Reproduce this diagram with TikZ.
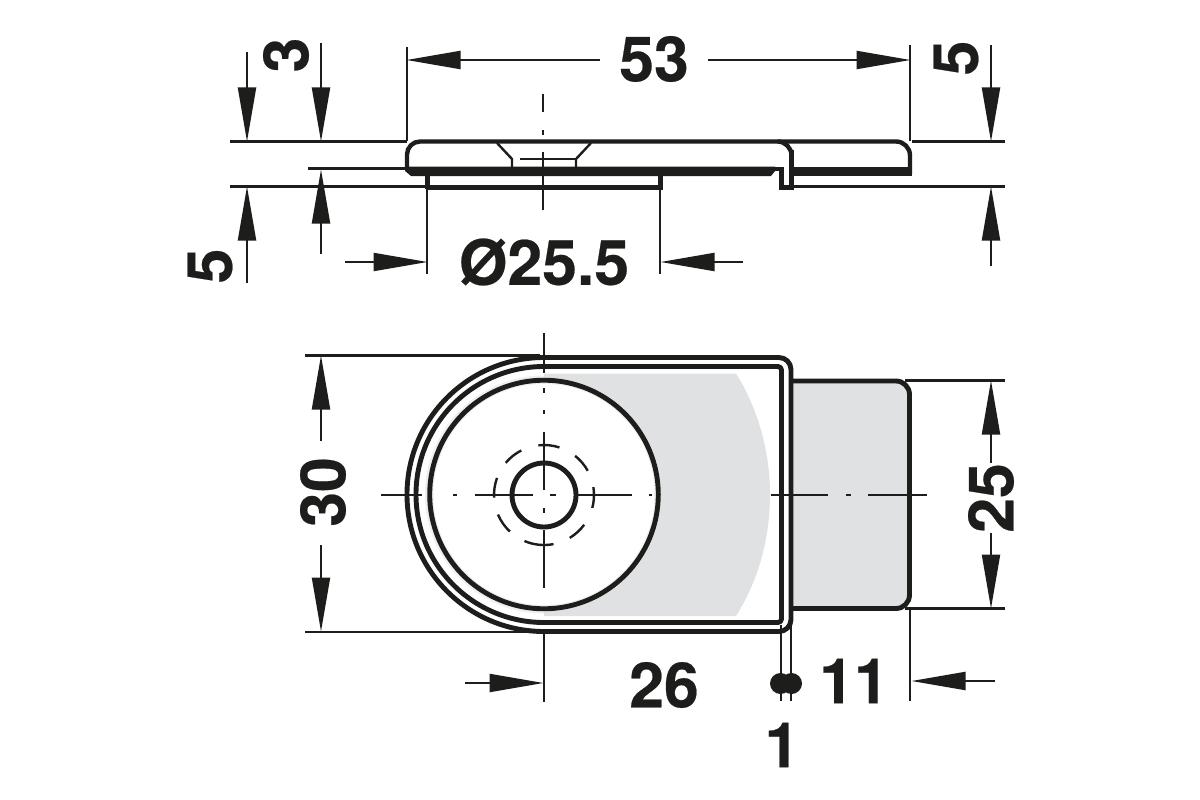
\documentclass[tikz,border=0pt]{standalone}
\usepackage{fontspec}
\setmainfont{TeX Gyre Heros}[BoldFeatures={FakeBold=0.35}]
\usetikzlibrary{arrows.meta}
\definecolor{greyfill}{HTML}{E0E1E3}
\definecolor{halo}{HTML}{EFEFF0}
\definecolor{ink}{HTML}{1D1D1B}
\tikzset{
  thin line/.style={draw=ink,line width=2.1pt},
  thick line/.style={draw=ink,line width=4.9pt,line join=round},
  mid line/.style={draw=ink,line width=2.4pt},
  dimarrow/.style={draw=ink,line width=2.1pt,-{Triangle[length=54pt,width=18pt,color=ink]},shorten >=-0.5pt},
  dimtext/.style={font=\bfseries\fontsize{62.5}{62.5}\selectfont,text=ink,inner sep=0pt},
}
\begin{document}
\begin{tikzpicture}[x=1pt,y=-1pt]
\useasboundingbox (0,0) rectangle (1200,800);
\fill[white] (0,0) rectangle (1200,800);
% ---- extension lines, top view
\draw[thin line] (230,141.5) -- (407,141.5);
\draw[thin line] (912,141.5) -- (1005,141.5);
\draw[thin line] (308,168.5) -- (407,168.5);
\draw[thin line] (230,186.5) -- (427,186.5);
\draw[thin line] (793,186.5) -- (1005,186.5);
\draw[thin line] (407,47) -- (407,141);
\draw[thin line] (910,45) -- (910,141);
\draw[thin line] (427,186) -- (427,274);
\draw[thin line] (660,186) -- (660,274);
% centre line, top view
\draw[thin line] (543,94) -- (543,112);
\draw[thin line] (543,130) -- (543,135);
\draw[thin line] (543,152) -- (543,210);
% ---- plate, top view
\draw[thick line,line width=4.4pt] (791.5,189) -- (791.5,155.5) arc[start angle=0,end angle=-90,radius=14] -- (420,141.5)
  arc[start angle=-90,end angle=-180,radius=13] -- (407,168);
\draw[thick line,line width=4.4pt] (777.5,141.5) -- (896,141.5) arc[start angle=-90,end angle=0,radius=14] -- (910,174);
\fill[ink] (405,166.7) -- (775,166.7) -- (775,171) -- (771,176) -- (411,176) -- (405,171) -- cycle;
\fill[ink] (775,166.7) rectangle (784,171);
\fill[ink] (793,166.7) rectangle (912,175.5);
\fill[ink] (779,166.7) rectangle (784,189.5);
\fill[ink] (779,185) rectangle (793.5,189.5);
\fill[ink] (788.5,150) rectangle (793.5,189.5);
\fill[white] (784,172) rectangle (788.5,185);
\fill[ink] (425,174) rectangle (430,189);
\fill[ink] (658,174) rectangle (663,189);
\fill[ink] (427,184.7) rectangle (663,189.5);
\draw[mid line] (497,143) -- (512,159) -- (512,168);
\draw[mid line] (591,143) -- (576,159) -- (576,168);
\draw[mid line] (520,159) -- (576,159);
% ---- dimensions, top view
\draw[dimarrow] (247,52) -- (247,141);
\draw[dimarrow] (321,43) -- (321,141);
\draw[dimarrow] (247,283) -- (247,187);
\draw[dimarrow] (321,254) -- (321,170);
\draw[dimarrow] (991,45) -- (991,141);
\draw[dimarrow] (991,266) -- (991,187);
\draw[dimarrow] (600,60) -- (407,60);
\draw[dimarrow] (708,60) -- (910,60);
\draw[dimarrow] (345,262) -- (427,262);
\draw[dimarrow] (743,262) -- (661,262);
\node[dimtext,rotate=90] (t3) at (286,55) {3};
\node[dimtext,rotate=90] (t5a) at (210,266) {5};
\node[dimtext,rotate=90] (t5b) at (956,58) {5};
\node[dimtext] (t53) at (654,59) {53};
\node[dimtext] (tdia) at (544,262) {Ø25.5};
% ---- front view: shading
\fill[halo] (544,494.5) circle[radius=119];
\fill[greyfill] (544,373.5) -- (736,373.5) .. controls (760,412) and (770,455) .. (770,495) .. controls (770,535) and (760,578) .. (736,616) -- (544,616) -- cycle;
\fill[halo] (544,494.5) circle[radius=117];
\fill[white] (544,494.5) circle[radius=110.5];
\fill[greyfill] (791,381) -- (896,381) arc[start angle=-90,end angle=0,radius=13.5] -- (909.5,595) arc[start angle=0,end angle=90,radius=13.5] -- (791,608.5) -- cycle;
% extension lines, front view
\draw[thin line] (305,355.5) -- (540,355.5);
\draw[thin line] (305,632) -- (540,632);
\draw[thin line] (905,380.5) -- (1005,380.5);
\draw[thin line] (905,608.5) -- (1005,608.5);
\draw[thin line] (544,630) -- (544,702);
\draw[thin line] (781,625) -- (781,701);
\draw[thin line] (791,625) -- (791,701);
\draw[thin line] (910,608) -- (910,701);
% outlines
\draw[thick line] (791,381) -- (896,381) arc[start angle=-90,end angle=0,radius=13.5] -- (909.5,595) arc[start angle=0,end angle=90,radius=13.5] -- (791,608.5);
\draw[thick line] (544,357.5) -- (779,357.5) arc[start angle=-90,end angle=0,radius=12] -- (791,619.5) arc[start angle=0,end angle=90,radius=12] -- (544,631.5) arc[start angle=90,end angle=270,radius=137] -- cycle;
\draw[thick line] (544,366.5) -- (778,366.5) arc[start angle=-90,end angle=0,radius=3.5] -- (781.5,619) arc[start angle=0,end angle=90,radius=3.5] -- (544,622.5) arc[start angle=90,end angle=270,radius=128] -- cycle;
\draw[thick line] (544,494.5) circle[radius=114.3];
\draw[thick line] (544,495) circle[radius=32];
% hidden circle
\foreach \a/\b in {96.5/72,51.5/29,9/-15,-36.6/-59,-79/-113,-133/-157,-177/-200,140/117}{
  \draw[mid line] (544,495) ++(-\a:50) arc[start angle=-\a,end angle=-\b,radius=50];
}
% centre lines, front view
\foreach \p/\q in {381/422,453/457,475/533,550/556,578/632,649/652,771/828,846/851,868/927}{
  \draw[mid line,line width=2pt] (\p,495) -- (\q,495);
}
\foreach \p/\q in {333/373,388/393,410/414,432/490,508/513,530/588}{
  \draw[mid line,line width=2pt] (544,\p) -- (544,\q);
}
% ---- dimensions, front view
\draw[dimarrow] (321,441) -- (321,356);
\draw[dimarrow] (321,545) -- (321,631);
\draw[dimarrow] (991,463) -- (991,381);
\draw[dimarrow] (991,533) -- (991,608);
\draw[dimarrow] (465,683) -- (543,683);
\draw[dimarrow] (995,681) -- (912,681);
\fill[ink] (780.5,683.5) circle[radius=10.5];
\fill[ink] (791.5,683.5) circle[radius=10.5];
\node[dimtext,rotate=90] (t30) at (323,492) {30};
\node[dimtext,rotate=90] (t25) at (991,498) {25};
\node[dimtext] (t26) at (664,685) {26};
\node[dimtext] (t11) at (854,681) {11};
\node[dimtext] (t1) at (782,745) {1};
\end{tikzpicture}
\end{document}
